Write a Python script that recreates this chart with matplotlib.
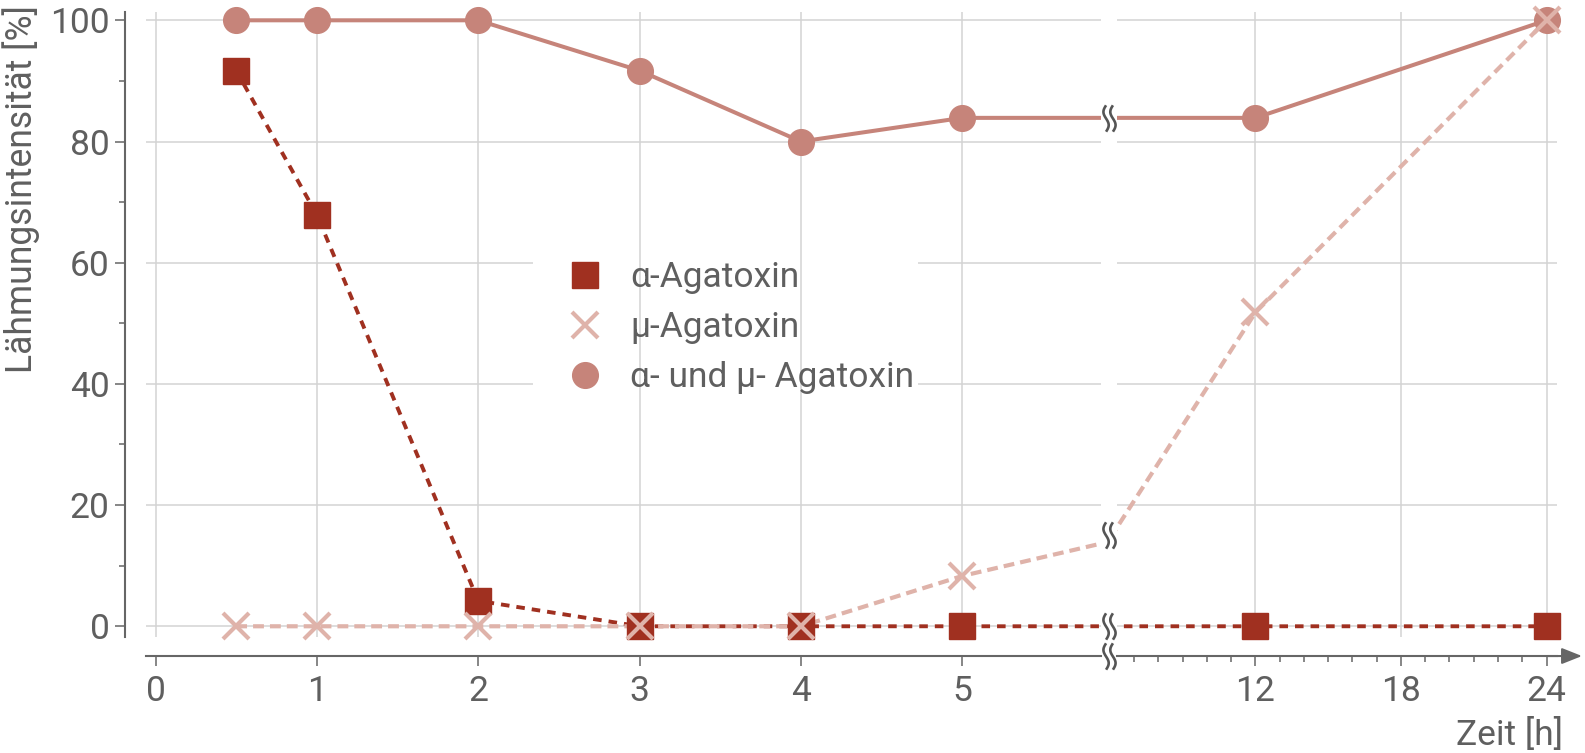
import numpy as np
import matplotlib
matplotlib.use('Agg')
import matplotlib.pyplot as plt
from matplotlib.path import Path
from matplotlib import transforms

plt.rcParams['font.family'] = ['Roboto', 'DejaVu Sans']

# data (hours, paralysis intensity in %)
hours = np.array([0.5, 1, 2, 3, 4, 5, 12, 24])
alpha_vals = np.array([91.7, 67.9, 4.2, 0, 0, 0, 0, 0])
mu_vals = np.array([0, 0, 0, 0, 0, 8.3, 51.8, 100])
both_vals = np.array([100, 100, 100, 91.7, 80, 83.9, 83.9, 100])

labels = ['α-Agatoxin', 'μ-Agatoxin', 'α- und μ- Agatoxin']
x_ticks_left = [0, 1, 2, 3, 4, 5]
x_ticks_right = [12, 18, 24]
x_minor_right = list(range(7, 24))
y_ticks = [0, 20, 40, 60, 80, 100]
y_minor = [10, 30, 50, 70, 90]

C_ALPHA = '#a03020'
C_MU = '#dfb3aa'
C_BOTH = '#c6847a'
C_AXIS = '#666666'
C_TEXT = '#5f5f5f'
C_GRID = '#d3d3d3'
FS = 25.5

fig = plt.figure(figsize=(15.85, 7.53), dpi=100)
axL = fig.add_axes([0.09192, 0.15405, 0.60271, 0.83041])
axR = fig.add_axes([0.70473, 0.15405, 0.27741, 0.83041])
limits = {axL: (-0.061, 5.86), axR: (6.29, 24.42)}

for ax in (axL, axR):
    lo, hi = limits[ax]
    # lines (clipped at the break)
    ax.plot(hours, both_vals, color=C_BOTH, lw=2.9, zorder=3)
    ax.plot(hours, alpha_vals, color=C_ALPHA, lw=2.8, dashes=(2.2, 1.8), zorder=3.1)
    ax.plot(hours, mu_vals, color=C_MU, lw=3, dashes=(2.6, 1.45), zorder=3.2)
    m = (hours >= lo) & (hours <= hi)
    ax.plot(hours[m], both_vals[m], 'o', ms=18.5, color=C_BOTH, zorder=4,
            clip_on=False, label=labels[2])
    ax.plot(hours[m], alpha_vals[m], 's', ms=18.2, color=C_ALPHA, zorder=4.1,
            clip_on=False, label=labels[0])
    ax.plot(hours[m], mu_vals[m], 'x', ms=19, mew=3, color=C_MU, zorder=4.2,
            clip_on=False, label=labels[1])

    for y in y_ticks:
        ax.axhline(y, color=C_GRID, lw=1.1, zorder=1)

    ax.spines['top'].set_visible(False)
    ax.spines['right'].set_visible(False)
    ax.spines['bottom'].set_position(('outward', 13.7))
    for s in ax.spines.values():
        s.set_color(C_AXIS)
        s.set_linewidth(1.5)
    ax.tick_params(which='major', length=7.4, width=1.1, color=C_AXIS,
                   labelcolor=C_TEXT, labelsize=FS)
    ax.tick_params(which='minor', length=4, width=1.1, color=C_AXIS)
    ax.tick_params(axis='x', pad=6)

axL.set_xticks(x_ticks_left)
axR.set_xticks(x_ticks_right)
axR.set_xticks(x_minor_right, minor=True)
for x in x_ticks_left:
    axL.axvline(x, color=C_GRID, lw=1.1, zorder=1.8)
for x in x_ticks_right:
    axR.axvline(x, color=C_GRID, lw=1.1, zorder=1.8)

axL.set_yticks(y_ticks)
axL.set_yticks(y_minor, minor=True)
axL.spines['left'].set_position(('outward', 14.9))
axL.tick_params(axis='y', pad=3.6)
axR.spines['left'].set_visible(False)
axR.tick_params(axis='y', which='both', left=False, labelleft=False)

# break symbols
yy = np.linspace(-1, 1, 40)
amp, off = 0.2, 0.26
v1 = np.column_stack([-off - amp * np.sin(np.pi * yy), yy])
v2 = np.column_stack([off - amp * np.sin(np.pi * yy), yy])
codes = [Path.MOVETO] + [Path.LINETO] * (len(yy) - 1)
wave = Path(np.vstack([v1, v2]), codes * 2)

x_break = 5.908
t_mid = 6.1
brk_y = [np.interp(t_mid, hours, s) for s in (both_vals, mu_vals, alpha_vals)]
brk_kw = dict(ls='none', marker=wave, ms=19, mec='#555555', mfc='none',
              mew=1.9, clip_on=False, zorder=6)
axL.plot([x_break] * 3, brk_y, **brk_kw)
T_L = transforms.offset_copy(
    transforms.blended_transform_factory(axL.transData, axL.transAxes),
    fig=fig, y=-13.7, units='points')
axL.plot([x_break], [0], transform=T_L, **brk_kw)

# arrow at the end of the time axis
T_R = transforms.offset_copy(axR.transAxes, fig=fig, y=-13.7, units='points')
axR.annotate('', xy=(1.0575, 0), xytext=(0.98, 0), xycoords=T_R, textcoords=T_R,
             annotation_clip=False,
             arrowprops=dict(arrowstyle='-|>,head_length=1.23,head_width=0.49',
                             color=C_AXIS, lw=1.5, shrinkA=0, shrinkB=0,
                             mutation_scale=10))

for ax in (axL, axR):
    ax.set_xlim(*limits[ax])
    ax.set_ylim(-1.77, 101.42)

# legend: white background below vertical grid, content on top
handles, labs = axL.get_legend_handles_labels()
order = [1, 2, 0]
handles = [handles[i] for i in order]
labs = [labs[i] for i in order]
leg_kw = dict(loc='upper left', bbox_to_anchor=(533 / 1585, 1 - 257.5 / 753),
              bbox_transform=fig.transFigure, fontsize=FS, labelspacing=0.48,
              handletextpad=-0.1, borderpad=0.1, handlelength=2.74,
              borderaxespad=0, labelcolor=C_TEXT)
leg_bg = axL.legend(handles, labs, frameon=True, facecolor='white',
                    edgecolor='none', framealpha=1, fancybox=False, **leg_kw)
for t in leg_bg.get_texts():
    t.set_visible(False)
for h in leg_bg.legend_handles:
    h.set_visible(False)
leg_bg.set_zorder(1.5)
axL.add_artist(leg_bg)
leg = axL.legend(handles, labs, frameon=False, **leg_kw)
leg.set_zorder(5)

fig.text(21.5 / 1585, 1 - 5 / 753, 'Lähmungsintensität [%]', rotation=90,
         ha='center', va='top', fontsize=25.6, color=C_TEXT)
fig.text(1563 / 1585, 1 - 745 / 753, 'Zeit [h]', ha='right', va='baseline',
         fontsize=FS, color=C_TEXT)

fig.savefig('out.png', dpi=100)
